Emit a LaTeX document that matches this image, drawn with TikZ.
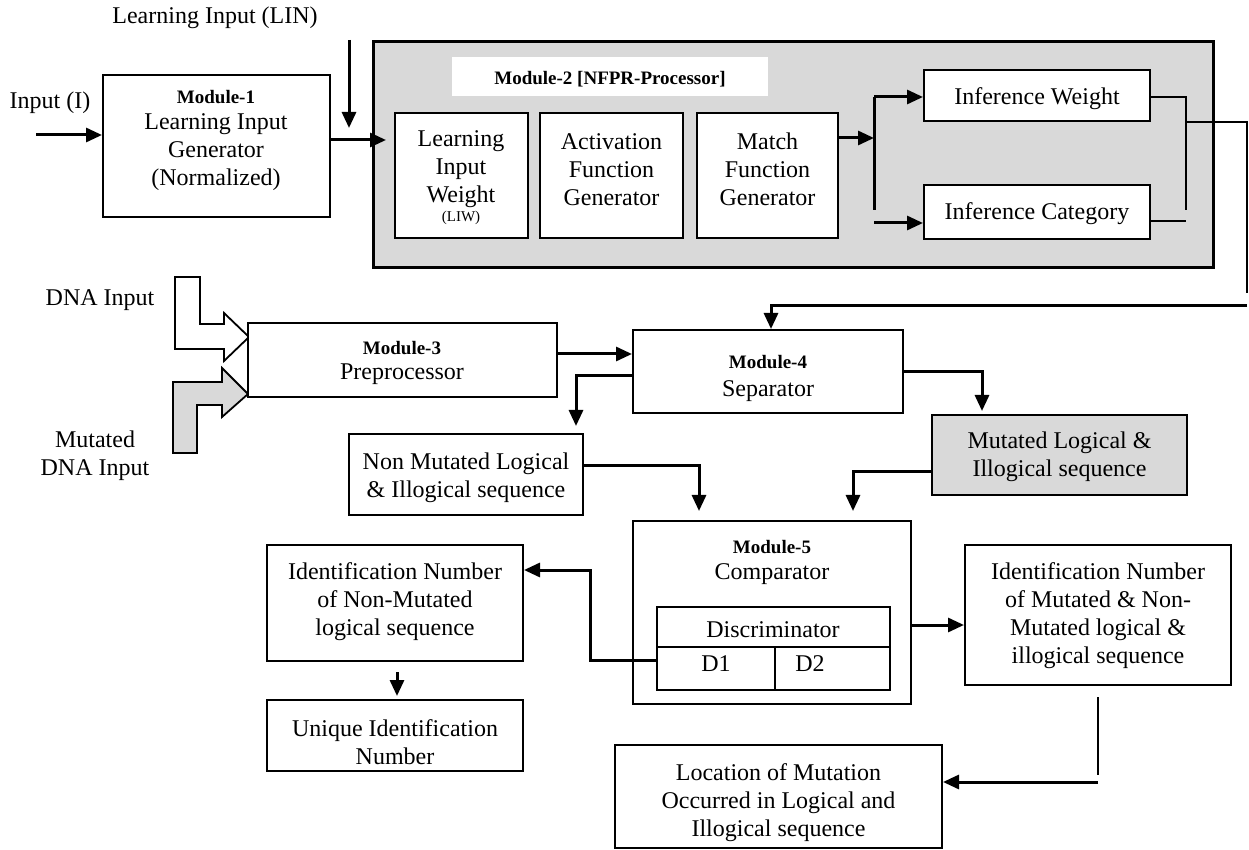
\documentclass[tikz,border=0pt]{standalone}
\usepackage{fontspec}
\setmainfont{Liberation Serif}
\usetikzlibrary{arrows.meta,fit}
\definecolor{boxgray}{HTML}{D9D9D9}
\begin{document}
\begin{tikzpicture}[x=0.5pt,y=-0.5pt,
  box/.style={draw, line width=1pt, fill=white, inner sep=0pt},
  txt/.style={font=\fontsize{12}{14}\selectfont, align=center, inner sep=0pt, yshift=-1.25pt},
  mod/.style={font=\fontsize{9.5}{11}\selectfont\bfseries, inner sep=0pt},
  small/.style={font=\fontsize{7.5}{9}\selectfont, inner sep=0pt},
  arr/.style={line width=1.5pt, -{Triangle[length=8pt,width=7pt]}},
  thk/.style={line width=1.5pt},
  ln/.style={line width=0.9pt}]
\useasboundingbox (0,0) rectangle (1249,850);

% ---------- top row ----------
\node[txt] (linlbl) at (215,15) {Learning Input (LIN)};
\node[txt] (inlbl) at (50,100) {Input (I)};

\node[box, fit={(103,75) (330,217)}] (m1) {};
\node[mod] (m1t) at (216,97) {Module-1};
\node[txt] (m1b) at (216,150) {Learning Input\\Generator\\(Normalized)};

\node[box, fill=boxgray, line width=1.5pt, fit={(373,42) (1213,268)}] (m2) {};
\node[fill=white, inner sep=0pt, fit={(452,57) (768,96)}] (m2w) {};
\node[mod] (m2t) at (610,79) {Module-2 [NFPR-Processor]};

\node[box, fit={(395,113) (528,238)}] (liw) {};
\node[txt] (liwt) at (461,167) {Learning\\Input\\Weight};
\node[small] (liws) at (461,218) {(LIW)};
\node[box, fit={(540,113) (683,238)}] (afg) {};
\node[txt] (afgt) at (afg.center |- 0,167) {Activation\\Function\\Generator};
\node[box, fit={(697,113) (838,238)}] (mfg) {};
\node[txt] (mfgt) at (mfg.center |- 0,167) {Match\\Function\\Generator};

\node[box, fit={(924,70) (1150,121)}] (iw) {};
\node[txt] (iwt) at (iw.center |- 0,96) {Inference Weight};
\node[box, fit={(924,185) (1150,239)}] (ic) {};
\node[txt] (ict) at (ic.center |- 0,211) {Inference Category};

% ---------- inputs / module 3 ----------
\node[txt] (dnalbl) at (100,298) {DNA Input};
\node[txt] (mdnalbl) at (95,453) {Mutated\\DNA Input};

\draw[ln, fill=white] (175,277) -- (200,277) -- (200,324) -- (224,324) -- (224,313)
  -- (249,337) -- (224,361) -- (224,349) -- (175,349) -- cycle;
\draw[ln, fill=boxgray] (173,382) -- (222,382) -- (222,368) -- (248,394) -- (222,417)
  -- (222,405) -- (197,405) -- (197,453) -- (173,453) -- cycle;

\node[box, fit={(248,323) (557,397)}] (m3) {};
\node[mod] (m3t) at (402,348) {Module-3};
\node[txt] (m3b) at (402,372) {Preprocessor};

\node[box, fit={(633,330) (903,413)}] (m4) {};
\node[mod] (m4t) at (768,362) {Module-4};
\node[txt] (m4b) at (768,389) {Separator};

\node[box, fit={(349,434) (583,515)}] (nm) {};
\node[txt] (nmt) at (nm.center |- 0,475) {Non Mutated Logical\\\& Illogical sequence};
\node[box, fill=boxgray, fit={(932,415) (1187,495)}] (mut) {};
\node[txt] (mutt) at (mut.center |- 0,454) {Mutated Logical \&\\Illogical sequence};

% ---------- module 5 ----------
\node[box, fit={(633,521) (911,704)}] (m5) {};
\node[mod] (m5t) at (772,547) {Module-5};
\node[txt] (m5b) at (772,572) {Comparator};
\node[box, fit={(657,607) (890,690)}] (disc) {};
\node[txt] (disct) at (773,627) {Discriminator};
\node[txt] (d1) at (716,661) {D1};
\node[txt] (d2) at (810,661) {D2};
\draw[ln] (disc.west |- 0,647) -- (disc.east |- 0,647);
\draw[ln] (775,647) -- (disc.south -| 775,0);

\node[box, fit={(267,545) (523,661)}] (idn) {};
\node[txt] (idnt) at (idn.center |- 0,599) {Identification Number\\of Non-Mutated\\logical sequence};
\node[box, fit={(267,700) (523,771)}] (uid) {};
\node[txt] (uidt) at (uid.center |- 0,740) {Unique Identification\\Number};
\node[box, fit={(965,545) (1231,685)}] (idm) {};
\node[txt] (idmt) at (idm.center |- 0,613) {Identification Number\\of Mutated \& Non-\\Mutated logical \&\\illogical sequence};
\node[box, fit={(615,745) (942,848)}] (loc) {};
\node[txt] (loct) at (loc.center |- 0,800) {Location of Mutation\\Occurred in Logical and\\Illogical sequence};

% ---------- connectors ----------
\coordinate (lin0) at (349,40);
\coordinate (lin1) at (349,128);
\draw[arr] (lin0) -- (lin1);
\coordinate (in0) at (36,135);
\draw[arr] (in0) -- (in0 -| m1.west);
\coordinate (m2in) at (386,140);
\draw[arr] (m1.east |- m2in) -- (m2in);
\coordinate (sp) at (874,138);
\draw[arr] (mfg.east |- sp) -- (sp);
\coordinate (spt) at (874,97);
\coordinate (spb) at (874,210);
\coordinate (spc) at (874,223);
\draw[thk] (spt) -- (spb);
\draw[arr] (spt) -- (spt -| iw.west);
\draw[arr] (spc) -- (spc -| ic.west);
\coordinate (jt) at (1186,97);
\coordinate (jb) at (1186,210);
\coordinate (jc) at (1186,221);
\draw[ln] (iw.east |- jt) -- (jt) -- (jb);
\draw[ln] (ic.east |- jc) -- (jc);
\coordinate (o1) at (1186,122);
\coordinate (o2) at (1247,293);
\draw[ln] (o1) -| (o2);
\coordinate (r1) at (1247,306);
\draw[arr] (r1) -| (m4.north -| 771,0);

\draw[arr] (m3.east |- 0,354) -- (m4.west |- 0,354);
\draw[arr, shorten >=3.5pt] (m4.west |- 0,376) -| (nm.north -| 576,0);
\draw[arr, shorten >=1.5pt] (m4.east |- 0,372) -| (mut.north -| 982,0);
\draw[arr, shorten >=4.5pt] (nm.east |- 0,466) -| (m5.north -| 699,0);
\draw[arr, shorten >=4.5pt] (mut.west |- 0,472) -| (m5.north -| 853,0);
\draw[arr] (disc.west |- 0,660) -| (590,570) -- (idn.east |- 0,570);
\coordinate (u0) at (397,672);
\draw[arr, shorten >=1.5pt] (u0) -- (uid.north -| u0);
\draw[arr] (m5.east |- 0,625) -- (idm.west |- 0,625);
\coordinate (l0) at (1098,697);
\coordinate (l1) at (1098,775);
\coordinate (l2) at (1098,782);
\draw[ln] (l0) -- (l1);
\draw[arr] (l2) -- (loc.east |- l2);
\end{tikzpicture}
\end{document}
